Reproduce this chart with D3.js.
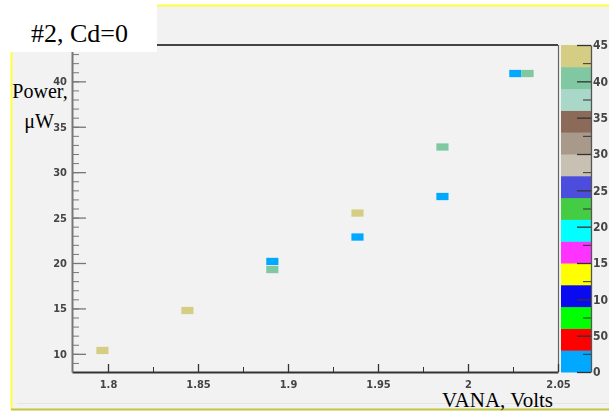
<!DOCTYPE html>
<html><head><meta charset="utf-8">
<script src="https://cdn.jsdelivr.net/npm/d3@7"></script>
<style>html,body{margin:0;padding:0;background:#fff;}svg{display:block;}</style>
</head><body>
<script>
// ---- data ----
const vana    = [1.7969, 1.8441, 1.8913, 1.8913, 1.9386, 1.9386, 1.9858, 1.9858, 2.0263, 2.0331];
const power   = [10.37, 14.77, 20.17, 19.28, 25.50, 22.86, 32.77, 27.32, 40.86, 40.86];
const content = [44, 44, 1, 41, 44, 1, 41, 1, 1, 41];
const xTicks = [1.8, 1.85, 1.9, 1.95, 2.0, 2.05];
const xTickLabels = ["1.8", "1.85", "1.9", "1.95", "2", "2.05"];
const yTicks = [10, 15, 20, 25, 30, 35, 40];
const zTicks = [0, 5, 10, 15, 20, 25, 30, 35, 40, 45];
const zTickLabels = ["0", "50", "10", "15", "20", "25", "30", "35", "40", "45"];
const palette = ["#00a8ff", "#ff0000", "#00ff00", "#0a0af0", "#ffff00", "#ff33ff", "#00ffff",
                 "#44cc44", "#4d4ddd", "#c9c0b4", "#a8998b", "#8c6a5a", "#a9d7c8", "#7fc8a2", "#d6cd84"];
const xBin = 0.00675, yBin = 0.8;

const W = 609, H = 412;
const L = 72, R = 558, T = 45, B = 372;
const svg = d3.select("body").append("svg").attr("width", W).attr("height", H);

const defs = svg.append("defs");
defs.append("filter").attr("id", "blur").append("feGaussianBlur").attr("stdDeviation", 0.45);
defs.append("filter").attr("id", "blur2").append("feGaussianBlur").attr("stdDeviation", 0.35);

// canvas
svg.append("rect").attr("width", W).attr("height", H).attr("fill", "#fff");
svg.append("rect").attr("x", 11).attr("y", 5).attr("width", W - 11).attr("height", 405).attr("fill", "#f2f2f2");
svg.append("line").attr("x1", 11).attr("x2", W).attr("y1", 5.5).attr("y2", 5.5).attr("stroke", "#ffff33").attr("stroke-width", 2);
svg.append("line").attr("x1", 11.5).attr("x2", 11.5).attr("y1", 5).attr("y2", 410).attr("stroke", "#ffff40").attr("stroke-width", 2);
svg.append("line").attr("x1", 11).attr("x2", W).attr("y1", 409.5).attr("y2", 409.5).attr("stroke", "#c4c440").attr("stroke-width", 2);
svg.append("line").attr("x1", 17).attr("x2", W).attr("y1", 403.5).attr("y2", 403.5).attr("stroke", "#e6e6e6").attr("stroke-width", 1);

const x = d3.scaleLinear().domain([1.78, 2.05]).range([L, R]);
const y = d3.scaleLinear().domain([8, 44]).range([B, T]);
const z = d3.scaleLinear().domain([0, 45]).range([B, T]);

// cells
const cells = svg.append("g").attr("filter", "url(#blur)");
vana.forEach((v, i) => {
  const band = Math.min(palette.length - 1, Math.floor(content[i] / 3));
  cells.append("rect")
    .attr("x", x(v - xBin / 2)).attr("width", x(v + xBin / 2) - x(v - xBin / 2))
    .attr("y", y(power[i] + yBin / 2)).attr("height", y(power[i] - yBin / 2) - y(power[i] + yBin / 2))
    .attr("fill", palette[band]);
});

// frame
svg.append("line").attr("x1", L).attr("x2", R).attr("y1", T).attr("y2", T).attr("stroke", "#444").attr("stroke-width", 2);
svg.append("line").attr("x1", R + 0.5).attr("x2", R + 0.5).attr("y1", T).attr("y2", B).attr("stroke", "#666").attr("stroke-width", 1.2);

const tickFont = "'DejaVu Sans Condensed', 'DejaVu Sans', sans-serif";

// x axis
const xMinor = d3.range(1.825, 2.05, 0.05);
svg.append("g").attr("transform", `translate(0,${B})`)
  .call(d3.axisBottom(x).tickValues(xMinor).tickSize(-5).tickFormat(""))
  .call(g => g.select(".domain").remove())
  .call(g => g.selectAll("line").attr("stroke", "#333"));
const gx = svg.append("g").attr("transform", `translate(0,${B})`)
  .call(d3.axisBottom(x).tickValues(xTicks).tickSize(-8).tickSizeOuter(0).tickPadding(8)
        .tickFormat((d, i) => xTickLabels[i]));
gx.select(".domain").attr("stroke", "#333").attr("stroke-width", 2);
gx.selectAll("line").attr("stroke", "#333").attr("stroke-width", 1.3);
gx.selectAll("text").attr("font-family", tickFont).attr("font-size", 11).attr("font-weight", "bold")
  .attr("fill", "#444").attr("filter", "url(#blur2)");

// y axis
svg.append("g").attr("transform", `translate(${L},0)`)
  .call(d3.axisLeft(y).tickValues(d3.range(9, 45, 1)).tickSize(-7).tickFormat(""))
  .call(g => g.select(".domain").remove())
  .call(g => g.selectAll("line").attr("stroke", "#777"));
const gy = svg.append("g").attr("transform", `translate(${L},0)`)
  .call(d3.axisLeft(y).tickValues(yTicks).tickSize(-14).tickSizeOuter(0).tickPadding(5).tickFormat(d3.format("d")));
gy.select(".domain").attr("stroke", "#777").attr("stroke-width", 2);
gy.selectAll("line").attr("stroke", "#777").attr("stroke-width", 1.3);
gy.selectAll("text").attr("font-family", tickFont).attr("font-size", 11).attr("font-weight", "bold")
  .attr("fill", "#444").attr("filter", "url(#blur2)");

// colour bar
const CB0 = 561, CB1 = 591;
const bandEdges = d3.range(0, 46, 3);
palette.forEach((c, i) => {
  svg.append("rect").attr("x", CB0).attr("width", CB1 - CB0)
    .attr("y", z(bandEdges[i + 1])).attr("height", z(bandEdges[i]) - z(bandEdges[i + 1]) + 0.5)
    .attr("fill", c);
});
svg.append("g").attr("transform", `translate(${CB1},0)`)
  .call(d3.axisRight(z).tickValues(d3.range(2.5, 45, 5)).tickSize(-8).tickFormat(""))
  .call(g => g.select(".domain").remove())
  .call(g => g.selectAll("line").attr("stroke", "#333"));
const gz = svg.append("g").attr("transform", `translate(${CB1},0)`)
  .call(d3.axisRight(z).tickValues(zTicks).tickSize(-14).tickSizeOuter(0).tickPadding(2)
        .tickFormat((d, i) => zTickLabels[i]));
gz.select(".domain").attr("stroke", "#555").attr("stroke-width", 1.3);
gz.selectAll("line").attr("stroke", "#333").attr("stroke-width", 1.3);
gz.selectAll("text").attr("font-family", tickFont).attr("font-size", 12).attr("font-weight", "bold")
  .attr("fill", "#444").attr("filter", "url(#blur2)");

// axis titles
const serif = "'Liberation Serif', 'DejaVu Serif', serif";
svg.append("text").attr("x", 40).attr("y", 98).attr("text-anchor", "middle")
  .attr("font-family", serif).attr("font-size", 20).attr("fill", "#000").text("Power,");
svg.append("text").attr("x", 39).attr("y", 128).attr("text-anchor", "middle")
  .attr("font-family", serif).attr("font-size", 20).attr("fill", "#000").text("μW");
svg.append("text").attr("x", 553).attr("y", 407).attr("text-anchor", "end")
  .attr("font-family", serif).attr("font-size", 21).attr("fill", "#000").text("VANA, Volts");

// title box
svg.append("rect").attr("x", 0).attr("y", 0).attr("width", 157).attr("height", 52).attr("fill", "#fff");
svg.append("text").attr("x", 31).attr("y", 42).attr("font-family", serif).attr("font-size", 26)
  .attr("fill", "#000").text("#2, Cd=0");
</script>
</body></html>
